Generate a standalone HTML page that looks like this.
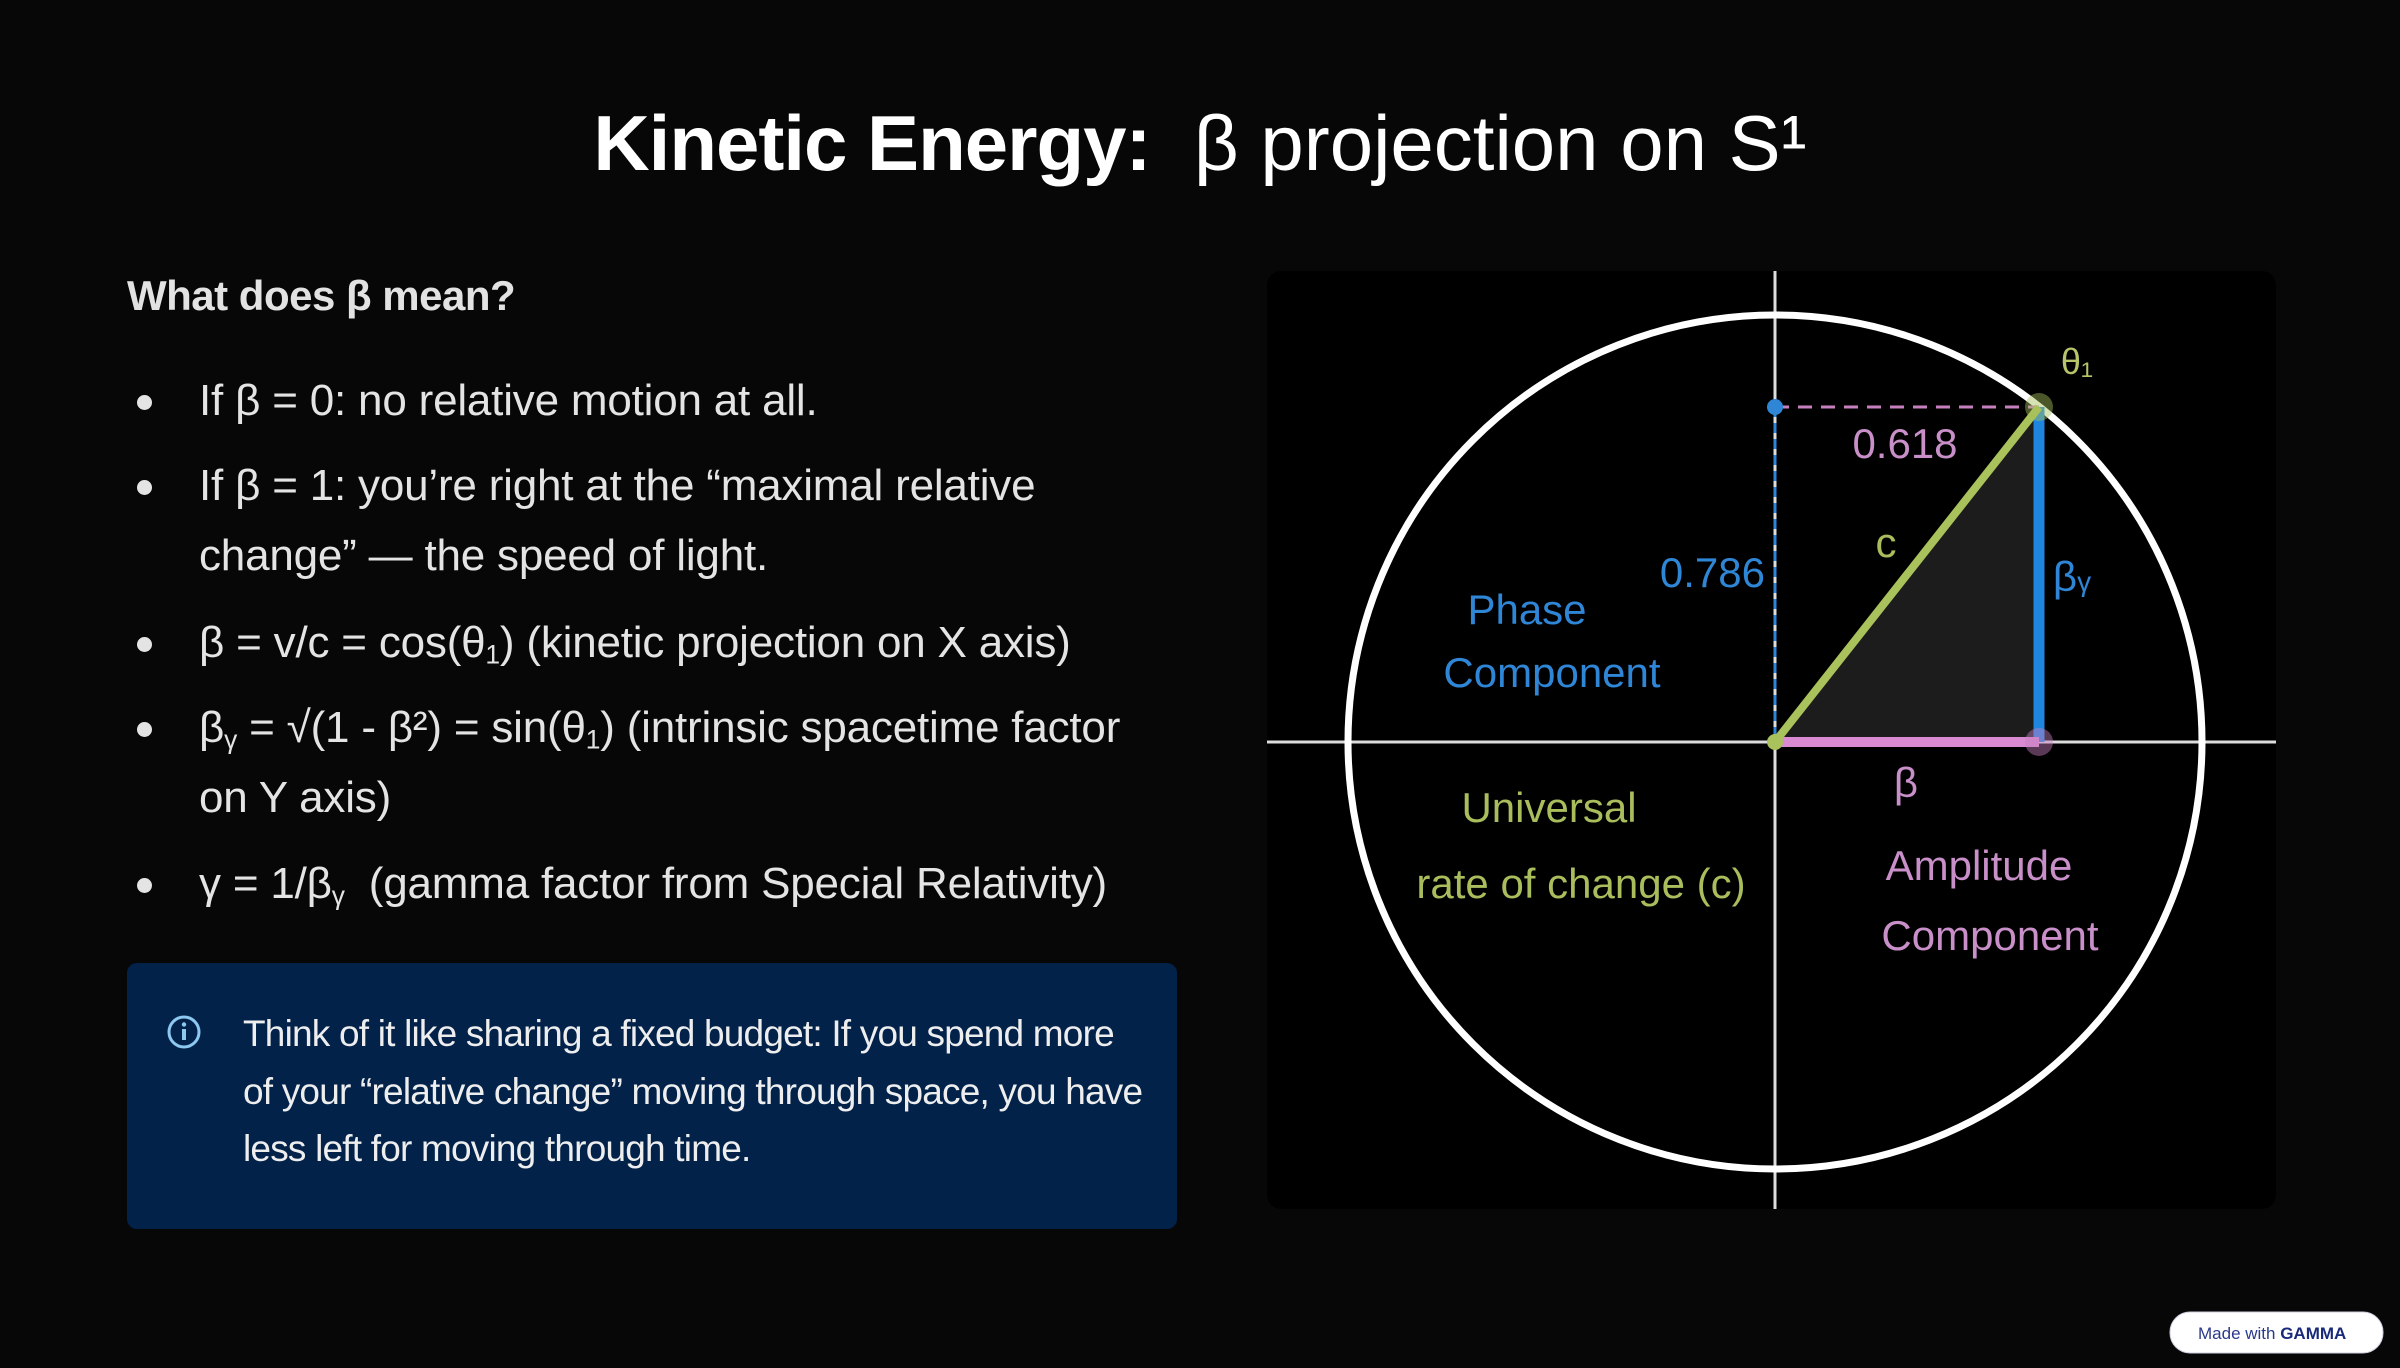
<!DOCTYPE html>
<html><head><meta charset="utf-8">
<style>
html,body{margin:0;padding:0;}
body{width:2400px;height:1368px;background:#070707;position:relative;overflow:hidden;font-family:"Liberation Sans",sans-serif;color:#e6e6e6;}
.abs{position:absolute;white-space:nowrap;}
.title{left:0;width:2400px;text-align:center;top:98px;font-size:78px;color:#fff;}
.title b{font-weight:bold;letter-spacing:-1px;}
.title span{font-weight:normal;}
.h{left:127px;top:272px;font-size:42px;font-weight:bold;color:#e2e2e2;letter-spacing:-0.5px;}
.li{left:199px;font-size:44px;color:#e4e4e4;letter-spacing:-0.2px;}
.dot{position:absolute;left:137px;width:15px;height:15px;border-radius:50%;background:#e4e4e4;}
.box{left:127px;top:963px;width:1050px;height:266px;background:#02224a;border-radius:10px;}
.bt{left:243px;font-size:37px;color:#eee;letter-spacing:-0.8px;}
sub{font-size:60%;vertical-align:-0.25em;}
</style></head><body>
<div class="abs title"><b>Kinetic Energy:</b>&nbsp; <span>β projection on S¹</span></div>
<div class="abs h">What does β mean?</div>

<div class="dot" style="top:395px"></div>
<div class="abs li" style="top:376px">If β = 0: no relative motion at all.</div>
<div class="dot" style="top:480px"></div>
<div class="abs li" style="top:461px">If β = 1: you’re right at the “maximal relative</div>
<div class="abs li" style="top:531px">change” — the speed of light.</div>
<div class="dot" style="top:637px"></div>
<div class="abs li" style="top:618px">β = v/c = cos(θ<sub>1</sub>) (kinetic projection on X axis)</div>
<div class="dot" style="top:722px"></div>
<div class="abs li" style="top:703px">β<sub>γ</sub> = √(1 - β²) = sin(θ<sub>1</sub>) (intrinsic spacetime factor</div>
<div class="abs li" style="top:773px">on Y axis)</div>
<div class="dot" style="top:878px"></div>
<div class="abs li" style="top:859px">γ = 1/β<sub>γ</sub>&nbsp; (gamma factor from Special Relativity)</div>

<div class="abs box"></div>
<svg class="abs" style="left:166px;top:1014px" width="36" height="36" viewBox="0 0 36 36"><circle cx="18" cy="18" r="15" fill="none" stroke="#8cc8f0" stroke-width="3"/><circle cx="18" cy="10.5" r="2.2" fill="#8cc8f0"/><rect x="16" y="15" width="4" height="11" fill="#8cc8f0"/></svg>
<div class="abs bt" style="top:1013px">Think of it like sharing a fixed budget: If you spend more</div>
<div class="abs bt" style="top:1071px">of your “relative change” moving through space, you have</div>
<div class="abs bt" style="top:1128px">less left for moving through time.</div>

<svg class="abs" style="left:0;top:0" width="2400" height="1368" font-family="Liberation Sans, sans-serif">
<rect x="1267" y="271" width="1009" height="938" rx="14" fill="#000"/>
<line x1="1267" y1="742" x2="2276" y2="742" stroke="#ddd" stroke-width="3"/>
<line x1="1775" y1="271" x2="1775" y2="1209" stroke="#ddd" stroke-width="3"/>
<circle cx="1775" cy="742" r="427" fill="none" stroke="#fff" stroke-width="7"/>
<polygon points="1775,742 2039,407 2039,742" fill="#1c1c1c"/>
<line x1="1775" y1="407" x2="2039" y2="407" stroke="#c77fc0" stroke-width="3" stroke-dasharray="14,9"/>
<line x1="1775" y1="407" x2="1775" y2="742" stroke="#2f86d6" stroke-width="3" stroke-dasharray="10,6"/>
<circle cx="1775" cy="407" r="8" fill="#2f86d6"/>
<line x1="2039" y1="407" x2="2039" y2="742" stroke="#1f86e0" stroke-width="11"/>
<line x1="1775" y1="742" x2="2039" y2="742" stroke="#d98ad0" stroke-width="10"/>
<line x1="1775" y1="742" x2="2039" y2="407" stroke="#a9c25c" stroke-width="8"/>
<circle cx="2039" cy="407" r="14" fill="#a9c25c" opacity="0.45"/>
<circle cx="2039" cy="742" r="14" fill="#c77fc0" opacity="0.45"/>
<circle cx="1775" cy="742" r="8" fill="#a9c25c"/>
<g font-size="42" text-anchor="middle">
<text x="2077" y="374" fill="#b8c46a" font-size="36">θ₁</text>
<text x="1905" y="458" fill="#c88fc8">0.618</text>
<text x="1886" y="557" fill="#a9bd5c">c</text>
<text x="1765" y="587" fill="#2f86d6" text-anchor="end">0.786</text>
<text x="2072" y="591" fill="#2f86d6">β<tspan font-size="28">γ</tspan></text>
<text x="1527" y="624" fill="#2f86d6">Phase</text>
<text x="1552" y="687" fill="#2f86d6">Component</text>
<text x="1906" y="797" fill="#c88fc8">β</text>
<text x="1549" y="822" fill="#a9bd5c">Universal</text>
<text x="1581" y="898" fill="#a9bd5c">rate of change (c)</text>
<text x="1979" y="880" fill="#c88fc8">Amplitude</text>
<text x="1990" y="950" fill="#c88fc8">Component</text>
</g>
<rect x="2170" y="1312" width="213" height="41" rx="20" fill="#fff" stroke="#ccd" stroke-width="1"/>
<text x="2198" y="1339" font-size="17" fill="#2a3a8a">Made with <tspan font-weight="bold" fill="#1a2a7a">GAMMA</tspan></text>
</svg>
</body></html>
